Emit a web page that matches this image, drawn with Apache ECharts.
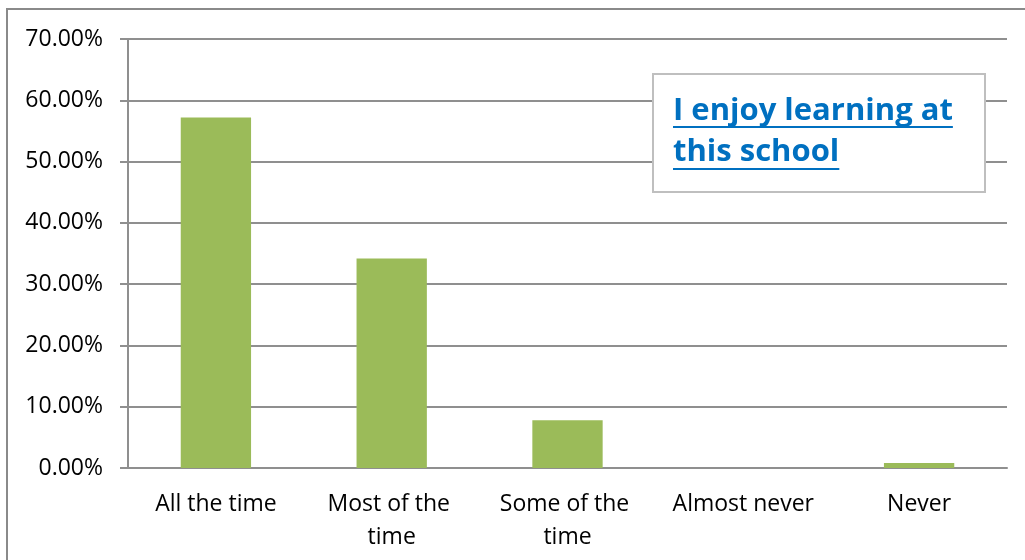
<!DOCTYPE html>
<html>
<head>
<meta charset="utf-8">
<script src="https://cdn.jsdelivr.net/npm/echarts@6/dist/echarts.min.js"></script>
<style>
  html, body { margin: 0; padding: 0; background: #fff; }
  #chart { width: 1025px; height: 560px; }
</style>
</head>
<body>
<div id="chart"></div>
<script>
// data
const categories = ['All the time', 'Most of the time', 'Some of the time', 'Almost never', 'Never'];
const percents = [57.2, 34.2, 7.8, 0, 0.8];
const yTicks = [0, 10, 20, 30, 40, 50, 60, 70];
const titleLines = ['I enjoy learning at', 'this school'];

const FONT = '"Open Sans", sans-serif';
const GRID_COLOR = '#8f8f8f';
const TITLE_FONT = 'bold 31px ' + FONT;

// measure the title so the underline fits the text
const ctx = document.createElement('canvas').getContext('2d');
ctx.font = TITLE_FONT;
const titleWidths = titleLines.map(t => ctx.measureText(t).width);

const chart = echarts.init(document.getElementById('chart'));
chart.setOption({
  animation: false,
  grid: { left: 128, right: 18, top: 39, bottom: 92 },
  xAxis: {
    type: 'category',
    data: categories,
    axisLine: { lineStyle: { color: GRID_COLOR, width: 2 } },
    axisTick: { length: 8, lineStyle: { color: GRID_COLOR, width: 2 } },
    axisLabel: {
      color: '#000',
      fontFamily: FONT,
      fontSize: 23,
      margin: 20,
      lineHeight: 33,
      width: 152,
      overflow: 'break',
      interval: 0
    }
  },
  yAxis: {
    type: 'value',
    min: yTicks[0],
    max: yTicks[yTicks.length - 1],
    interval: 10,
    axisLine: { show: true, lineStyle: { color: GRID_COLOR, width: 2 } },
    axisTick: { show: true, length: 8, lineStyle: { color: GRID_COLOR, width: 2 } },
    splitLine: { lineStyle: { color: GRID_COLOR, width: 2 } },
    axisLabel: {
      color: '#000',
      fontFamily: FONT,
      fontSize: 23,
      margin: 25,
      formatter: v => v.toFixed(2) + '%'
    }
  },
  series: [{
    type: 'bar',
    data: percents,
    barWidth: '40%',
    itemStyle: { color: '#9BBB59' }
  }],
  graphic: [
    // outer chart border (only left and top visible in the crop)
    {
      type: 'rect',
      shape: { x: 7, y: 9, width: 1100, height: 700 },
      style: { fill: null, stroke: '#8a8a8a', lineWidth: 2 },
      silent: true
    },
    // title box
    {
      type: 'rect',
      shape: { x: 653, y: 74, width: 332, height: 118 },
      style: { fill: '#fff', stroke: '#bfbfbf', lineWidth: 2 },
      z: 10
    },
    {
      type: 'text',
      x: 673, y: 96,
      style: { text: titleLines[0], fill: '#0070C0', font: TITLE_FONT },
      z: 11
    },
    {
      type: 'line',
      shape: { x1: 673, y1: 127, x2: 673 + titleWidths[0], y2: 127 },
      style: { stroke: '#0070C0', lineWidth: 2 },
      z: 11
    },
    {
      type: 'text',
      x: 673, y: 137,
      style: { text: titleLines[1], fill: '#0070C0', font: TITLE_FONT },
      z: 11
    },
    {
      type: 'line',
      shape: { x1: 673, y1: 169, x2: 673 + titleWidths[1], y2: 169 },
      style: { stroke: '#0070C0', lineWidth: 2 },
      z: 11
    }
  ]
});
</script>
</body>
</html>
